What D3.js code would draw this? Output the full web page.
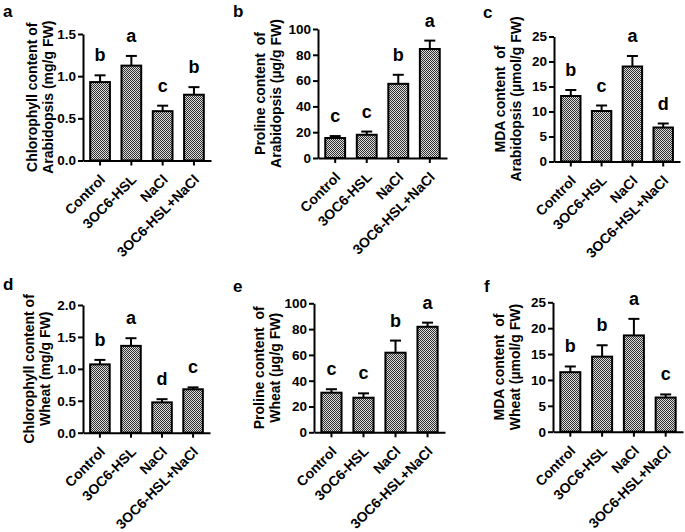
<!DOCTYPE html>
<html>
<head>
<meta charset="utf-8">
<script src="https://cdn.jsdelivr.net/npm/d3@7/dist/d3.min.js"></script>
<style>
  html, body { margin: 0; padding: 0; background: #fff; }
  svg { display: block; }
  text { font-family: "Liberation Sans", Arial, Helvetica, sans-serif; font-weight: bold; fill: #000; }
</style>
</head>
<body>
<svg id="chart" width="685" height="532"></svg>
<script>
// ---------------- DATA ----------------
const categories = ["Control", "3OC6-HSL", "NaCl", "3OC6-HSL+NaCl"];

const valuesA = [0.93, 1.125, 0.585, 0.78];
const errorsA = [0.08, 0.115, 0.065, 0.09];
const lettersA = ["b", "a", "c", "b"];
const ticksA = [0, 0.5, 1.0, 1.5];

const valuesB = [15.5, 18, 57.5, 84.5];
const errorsB = [1.5, 2.5, 7, 6.5];
const lettersB = ["c", "c", "b", "a"];
const ticksB = [0, 20, 40, 60, 80, 100];

const valuesC = [13.1, 10.1, 19.0, 6.8];
const errorsC = [1.2, 1.1, 2.1, 0.8];
const lettersC = ["b", "c", "a", "d"];
const ticksC = [0, 5, 10, 15, 20, 25];

const valuesD = [1.07, 1.36, 0.475, 0.68];
const errorsD = [0.07, 0.12, 0.05, 0.03];
const lettersD = ["b", "a", "d", "c"];
const ticksD = [0, 0.5, 1.0, 1.5, 2.0];

const valuesE = [30.7, 26.8, 61.7, 81.8];
const errorsE = [2.7, 3.4, 9.4, 3.2];
const lettersE = ["c", "c", "b", "a"];
const ticksE = [0, 20, 40, 60, 80, 100];

const valuesF = [11.5, 14.5, 18.6, 6.6];
const errorsF = [1.1, 2.2, 3.2, 0.6];
const lettersF = ["b", "b", "a", "c"];
const ticksF = [0, 5, 10, 15, 20, 25];

const panelLabels = ["a", "b", "c", "d", "e", "f"];
const titlesLine1 = ["Chlorophyll content of", "Proline content  of", "MDA content  of",
                     "Chlorophyll content of", "Proline content  of", "MDA content  of"];
const titlesLine2 = ["Arabidopsis (mg/g FW)", "Arabidopsis (\u00b5g/g FW)", "Arabidopsis (\u00b5mol/g FW)",
                     "Wheat (mg/g FW)", "Wheat (\u00b5g/g FW)", "Wheat (\u00b5mol/g FW)"];

// ---------------- LAYOUT ----------------
const layout = [
  { x0: 83,  x1: 211, yTop: 34,    yBot: 160.5, max: 1.5, fmt: ".1f", t1: 32,  t2: 48,  lx: 3,   ly: 17 },
  { x0: 318, x1: 447, yTop: 29,    yBot: 158,   max: 100, fmt: "d",   t1: 260, t2: 276, lx: 233, ly: 17 },
  { x0: 554, x1: 680, yTop: 36.5,  yBot: 161.5, max: 25,  fmt: "d",   t1: 500, t2: 516, lx: 483, ly: 18 },
  { x0: 83,  x1: 210, yTop: 305,   yBot: 432.7, max: 2.0, fmt: ".1f", t1: 29,  t2: 45,  lx: 3,   ly: 290 },
  { x0: 314, x1: 445, yTop: 303.3, yBot: 432.3, max: 100, fmt: "d",   t1: 259, t2: 275, lx: 233, ly: 292 },
  { x0: 553, x1: 683, yTop: 302.3, yBot: 431.7, max: 25,  fmt: "d",   t1: 499, t2: 515, lx: 484, ly: 292 }
];
const panelData = [
  [valuesA, errorsA, lettersA, ticksA],
  [valuesB, errorsB, lettersB, ticksB],
  [valuesC, errorsC, lettersC, ticksC],
  [valuesD, errorsD, lettersD, ticksD],
  [valuesE, errorsE, lettersE, ticksE],
  [valuesF, errorsF, lettersF, ticksF]
];

const svg = d3.select("#chart");

// checkered fill pattern
const defs = svg.append("defs");
const pat = defs.append("pattern").attr("id", "checker")
  .attr("patternUnits", "userSpaceOnUse").attr("width", 2).attr("height", 2);
pat.append("rect").attr("width", 2).attr("height", 2).attr("fill", "#dcdcdc");
pat.append("rect").attr("x", 0).attr("y", 0).attr("width", 1).attr("height", 1).attr("fill", "#303030");
pat.append("rect").attr("x", 1).attr("y", 1).attr("width", 1).attr("height", 1).attr("fill", "#303030");

panelData.forEach((pd, i) => {
  const [vals, errs, lets, ticks] = pd;
  const L = layout[i];
  const g = svg.append("g");

  const x = d3.scaleBand().domain(categories).range([L.x0, L.x1])
    .paddingInner(0.37).paddingOuter(0.23);
  const y = d3.scaleLinear().domain([0, L.max]).range([L.yBot, L.yTop]);
  const bw = x.bandwidth();

  const rows = categories.map((c, k) => ({ c, v: vals[k], e: errs[k], l: lets[k] }));

  // error bars (upper only)
  g.selectAll(".err").data(rows).enter().append("line")
    .attr("x1", d => x(d.c) + bw / 2).attr("x2", d => x(d.c) + bw / 2)
    .attr("y1", d => y(d.v)).attr("y2", d => y(d.v + d.e))
    .attr("stroke", "#000").attr("stroke-width", 2);
  g.selectAll(".cap").data(rows).enter().append("line")
    .attr("x1", d => x(d.c) + bw / 2 - 5.5).attr("x2", d => x(d.c) + bw / 2 + 5.5)
    .attr("y1", d => y(d.v + d.e)).attr("y2", d => y(d.v + d.e))
    .attr("stroke", "#000").attr("stroke-width", 2);

  // bars
  g.selectAll(".bar").data(rows).enter().append("rect")
    .attr("x", d => x(d.c)).attr("y", d => y(d.v))
    .attr("width", bw).attr("height", d => L.yBot - y(d.v))
    .attr("fill", "url(#checker)").attr("stroke", "#000").attr("stroke-width", 2);

  // significance letters
  g.selectAll(".sig").data(rows).enter().append("text")
    .attr("x", d => x(d.c) + bw / 2).attr("y", d => y(d.v + d.e) - 14)
    .attr("text-anchor", "middle").style("font-size", "18px")
    .text(d => d.l);

  // y axis
  const ya = g.append("g").attr("transform", `translate(${L.x0},0)`)
    .call(d3.axisLeft(y).tickValues(ticks).tickFormat(d3.format(L.fmt))
      .tickSize(5).tickSizeOuter(0).tickPadding(2));
  ya.selectAll("text").style("font-size", "13.5px").style("font-weight", "bold")
    .style("font-family", "'Liberation Sans', Arial, sans-serif");
  ya.selectAll("line, path").attr("stroke", "#000").attr("stroke-width", 2);

  // x axis
  const xa = g.append("g").attr("transform", `translate(0,${L.yBot})`)
    .call(d3.axisBottom(x).tickSize(5).tickSizeOuter(0).tickFormat(""));
  xa.selectAll("line, path").attr("stroke", "#000").attr("stroke-width", 2);

  // rotated category labels
  g.selectAll(".xl").data(categories).enter().append("text")
    .attr("transform", c => `translate(${x(c) + bw / 2 + 6},${L.yBot + 20}) rotate(-45)`)
    .attr("text-anchor", "end").style("font-size", "14px")
    .text(c => c);

  // axis title (two lines)
  const cy = (L.yTop + L.yBot) / 2;
  g.append("text").attr("transform", `translate(${L.t1},${cy}) rotate(-90)`)
    .attr("text-anchor", "middle").attr("dy", "0.35em").style("font-size", "14px")
    .style("white-space", "pre").attr("xml:space", "preserve")
    .text(titlesLine1[i]);
  g.append("text").attr("transform", `translate(${L.t2},${cy}) rotate(-90)`)
    .attr("text-anchor", "middle").attr("dy", "0.35em").style("font-size", "14px")
    .text(titlesLine2[i]);

  // panel label
  g.append("text").attr("x", L.lx).attr("y", L.ly).style("font-size", "17px")
    .text(panelLabels[i]);
});
</script>
</body>
</html>
